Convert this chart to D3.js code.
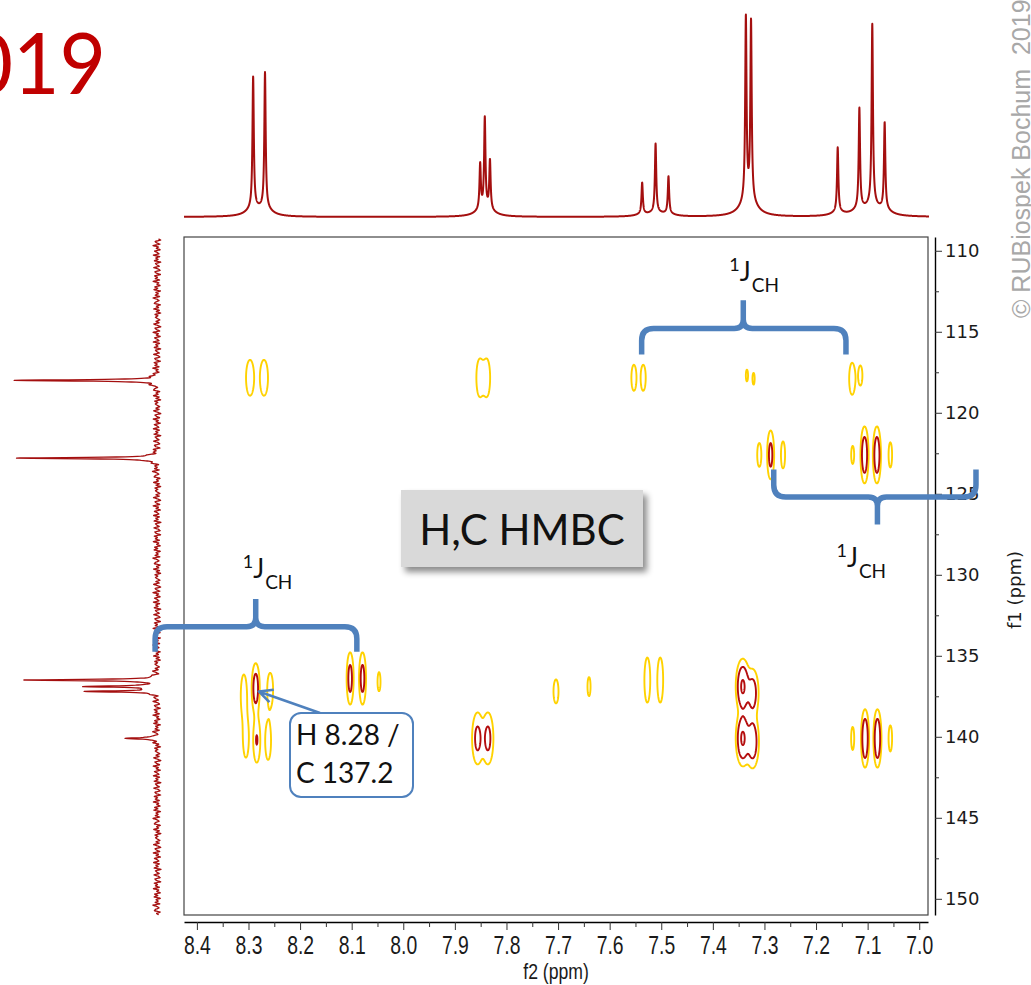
<!DOCTYPE html>
<html>
<head>
<meta charset="utf-8">
<script src="https://cdn.jsdelivr.net/npm/d3@7"></script>
<style>
  html, body { margin: 0; padding: 0; background: #fff; }
  svg { display: block; }
</style>
</head>
<body>
<svg id="chart" width="1031" height="985"></svg>
<script>
// 1H spectrum (top trace): shifts in ppm, heights in % of the tallest line
const hShift  = [8.291, 8.268, 7.851, 7.842, 7.832, 7.537, 7.511, 7.486, 7.336, 7.326, 7.158, 7.116, 7.091, 7.067];
const hHeight = [67, 69, 23, 46, 25, 16, 35, 19, 93, 91, 33, 51, 92, 44];

// 13C spectrum (left trace)
const cShift  = [118.0, 122.8, 136.5, 136.9, 137.2, 140.1];
const cHeight = [100, 99, 92, 50, 49, 24];
// baseline noise of the 13C trace (% units)
const cNoise = [0.8, -1.6, 2.4, -0.5, -2.7, 1.4, 0.3, -2.0, 2.8, -1.1, 0.6, -2.4, 1.8, -0.2, -1.4, 2.6,
                -1.9, 0.9, -0.8, 2.0, -2.8, 1.1, 0.1, -1.7, 2.3, -1.0, -2.2, 1.5, 0.5, -2.6, 1.9, -0.4,
                1.2, -1.8, 2.7, -1.3, 0.2, -2.3, 1.7, -0.6, 2.2, -2.5, 0.8, -0.9, 1.3, -2.0, 2.9, -0.1,
                -1.5, 1.0, 1.9, -2.4, 0.4, -1.2, 2.4, -1.8, 0.6, -2.7, 1.5, -0.7, 1.1, -0.3, -2.1];

// HMBC cross peaks: 1H shift, 13C shift, intensity, line widths (ppm)
const xpH   = [8.297, 8.270, 7.852, 7.838, 7.553, 7.535, 7.334, 7.321, 7.130, 7.114,
               7.310, 7.288, 7.264, 7.129, 7.106, 7.082, 7.056,
               8.309, 8.286, 8.258, 8.103, 8.079, 8.047, 7.704, 7.640, 7.527, 7.502, 7.342, 7.323,
               8.305, 8.284, 8.262, 7.856, 7.836, 7.342, 7.323, 7.129, 7.105, 7.081, 7.056];
const xpC   = [117.84, 117.84, 117.84, 117.84, 117.84, 117.84, 117.7, 117.9, 117.9, 117.7,
               122.6, 122.6, 122.6, 122.6, 122.6, 122.6, 122.6,
               137.45, 137.0, 137.1, 136.4, 136.4, 136.6, 137.2, 136.9, 136.5, 136.5, 136.9, 137.3,
               140.05, 140.2, 140.25, 140.1, 140.1, 140.1, 140.3, 140.1, 140.1, 140.1, 140.1];
const xpAmp = [2.0, 2.0, 1.8, 1.8, 1.8, 1.8, 1.15, 1.15, 2.0, 1.4,
               1.6, 4.2, 1.6, 1.35, 6.2, 6.2, 1.6,
               2.2, 5.2, 2.0, 4.5, 4.5, 1.4, 1.6, 1.3, 2.0, 2.0, 9.0, 5.0,
               2.0, 3.15, 2.0, 4.0, 4.0, 9.0, 6.0, 1.5, 7.4, 7.4, 1.6];
const xpWH  = [0.0066, 0.0066, 0.0058, 0.0058, 0.0045, 0.0045, 0.0039, 0.0039, 0.0049, 0.0047,
               0.0041, 0.0040, 0.0041, 0.0037, 0.0041, 0.0041, 0.0035,
               0.0047, 0.0043, 0.0048, 0.0039, 0.0039, 0.0035, 0.0050, 0.0041, 0.0048, 0.0048, 0.0065, 0.0065,
               0.0048, 0.0045, 0.0048, 0.0064, 0.0064, 0.0065, 0.0065, 0.0033, 0.0039, 0.0039, 0.0035];
const xpWC  = [0.94, 0.94, 1.05, 1.05, 0.74, 0.74, 0.68, 0.68, 0.84, 0.75,
               0.76, 0.89, 0.86, 0.72, 0.92, 0.92, 0.80,
               1.03, 0.85, 0.89, 0.93, 0.93, 0.72, 0.76, 0.81, 1.18, 1.18, 0.82, 0.82,
               1.05, 0.92, 1.00, 0.96, 0.96, 0.82, 0.87, 0.79, 0.90, 0.90, 0.83];
const contourLevels = [1, 3, 8];

// axis ticks
const xTicks = [8.4, 8.3, 8.2, 8.1, 8.0, 7.9, 7.8, 7.7, 7.6, 7.5, 7.4, 7.3, 7.2, 7.1, 7.0];
const xMinor = [8.35, 8.25, 8.15, 8.05, 7.95, 7.85, 7.75, 7.65, 7.55, 7.45, 7.35, 7.25, 7.15, 7.05];
const yTicks = [110, 115, 120, 125, 130, 135, 140, 145, 150];
const yMinor = [112.5, 117.5, 122.5, 127.5, 132.5, 137.5, 142.5, 147.5];

const specColor = "#a40f0f";
const blue = "#4f81bd";

const svg = d3.select("#chart");
const plot = {left: 184, right: 928, top: 237, bottom: 915};

const xH = d3.scaleLinear().domain([8.425, 6.983]).range([plot.left, plot.right]);
const yC = d3.scaleLinear().domain([109.15, 151.0]).range([plot.top, plot.bottom]);
const yTop = d3.scaleLinear().domain([0, 100]).range([217, 11]);
const xLeft = d3.scaleLinear().domain([0, 100]).range([157, 13]);

const defs = svg.append("defs");
defs.append("clipPath").attr("id", "plotClip")
  .append("rect")
  .attr("x", plot.left).attr("y", plot.top)
  .attr("width", plot.right - plot.left).attr("height", plot.bottom - plot.top);
const shadow = defs.append("filter").attr("id", "shadow")
  .attr("x", "-10%").attr("y", "-10%").attr("width", "130%").attr("height", "150%");
shadow.append("feDropShadow")
  .attr("dx", 4).attr("dy", 5).attr("stdDeviation", 3)
  .attr("flood-color", "#000").attr("flood-opacity", 0.45);

// red "2019" cut at the left edge
svg.append("text")
  .attr("x", -80).attr("y", 94)
  .attr("textLength", 186).attr("lengthAdjust", "spacingAndGlyphs")
  .style("font-family", "Lato, 'Open Sans', sans-serif")
  .style("font-size", "86px")
  .attr("fill", "#c00000")
  .text("2019");

// copyright, vertical
svg.append("text")
  .attr("transform", "translate(1030,318) rotate(-90)")
  .style("font-family", "'Liberation Sans', Arial, sans-serif")
  .style("font-size", "25px")
  .attr("fill", "#a8a8a8")
  .style("white-space", "pre")
  .text("\u00A9 RUBiospek Bochum\u00A0 2019");

// ---- top 1H trace
const gammaH = 0.00155, gammaFoot = 0.0155, footShare = 0.05;
const protonIntensity = ppm => {
  let s = 0;
  hShift.forEach((h, k) => {
    const d = ppm - h;
    s += hHeight[k] * ((1 - footShare) / (1 + (d / gammaH) ** 2) + footShare / (1 + (d / gammaFoot) ** 2));
  });
  return s;
};
const topPts = d3.range(plot.left, 929.01, 0.1).map(px => xH.invert(px));
svg.append("path")
  .datum(topPts)
  .attr("fill", "none")
  .attr("stroke", specColor)
  .attr("stroke-width", 2)
  .attr("stroke-linejoin", "round")
  .attr("d", d3.line().x(p => xH(p)).y(p => yTop(protonIntensity(p))));

// ---- left 13C trace
const gammaC = 0.045, noiseStep = 0.085;
const carbonIntensity = ppm => {
  let s = 0;
  cShift.forEach((c, k) => { s += cHeight[k] / (1 + ((ppm - c) / gammaC) ** 2); });
  const n = cNoise.length;
  const t = (ppm - 109) / noiseStep;
  const k0 = Math.floor(t), f = t - k0;
  const a = cNoise[((k0 % n) + n) % n], b = cNoise[(((k0 + 1) % n) + n) % n];
  return s + a + (b - a) * f;
};
const leftPts = d3.range(239, 915, 0.2).map(py => yC.invert(py));
svg.append("path")
  .datum(leftPts)
  .attr("fill", "none")
  .attr("stroke", specColor)
  .attr("stroke-width", 1.3)
  .attr("stroke-linejoin", "round")
  .attr("d", d3.line().x(p => xLeft(carbonIntensity(p))).y(p => yC(p)));

// ---- 2D contour map
const stepX = 0.5, stepY = 1;
const nx = Math.round((plot.right - plot.left) / stepX);
const ny = Math.round((plot.bottom - plot.top) / stepY);
const colPpm = d3.range(nx).map(i => xH.invert(plot.left + (i + 0.5) * stepX));
const rowPpm = d3.range(ny).map(j => yC.invert(plot.top + (j + 0.5) * stepY));
const field = new Array(nx * ny).fill(0);
xpH.forEach((h, k) => {
  const c = xpC[k], a = xpAmp[k], sh = xpWH[k], sc = xpWC[k];
  const i0 = Math.max(0, Math.floor((xH(h + 4.5 * sh) - plot.left) / stepX));
  const i1 = Math.min(nx - 1, Math.ceil((xH(h - 4.5 * sh) - plot.left) / stepX));
  const j0 = Math.max(0, Math.floor((yC(c - 4.5 * sc) - plot.top) / stepY));
  const j1 = Math.min(ny - 1, Math.ceil((yC(c + 4.5 * sc) - plot.top) / stepY));
  for (let j = j0; j <= j1; j++) {
    const dc = (rowPpm[j] - c) ** 2 / (2 * sc * sc);
    for (let i = i0; i <= i1; i++) {
      field[j * nx + i] += a * Math.exp(-((colPpm[i] - h) ** 2 / (2 * sh * sh) + dc));
    }
  }
});
const contours = d3.contours().size([nx, ny]).thresholds(contourLevels)(field);
const gridToPx = d3.geoTransform({
  point(x, y) { this.stream.point(plot.left + x * stepX, plot.top + y * stepY); }
});
const levelColor = ["#ffd200", "#b40d0d", "#b40d0d"];
svg.append("g")
  .attr("clip-path", "url(#plotClip)")
  .selectAll("path")
  .data(contours)
  .join("path")
  .attr("fill", "none")
  .attr("stroke", (d, i) => levelColor[i])
  .attr("stroke-width", 1.9)
  .attr("stroke-linejoin", "round")
  .attr("d", d3.geoPath(gridToPx));

// plot frame
svg.append("rect")
  .attr("x", plot.left).attr("y", plot.top)
  .attr("width", plot.right - plot.left).attr("height", plot.bottom - plot.top)
  .attr("fill", "none").attr("stroke", "#444").attr("stroke-width", 1.2);

// ---- axes
const xAxisY = 922;
const xAxisG = svg.append("g")
  .attr("transform", `translate(0,${xAxisY})`)
  .call(d3.axisBottom(xH).tickValues(xTicks).tickSize(8).tickSizeOuter(0).tickPadding(6).tickFormat(d3.format(".1f")));
svg.append("g")
  .attr("transform", `translate(0,${xAxisY})`)
  .call(d3.axisBottom(xH).tickValues(xMinor).tickSize(5).tickFormat(""))
  .call(g => g.select(".domain").remove());
xAxisG.select(".domain").attr("stroke-width", 1.6);
xAxisG.selectAll("text")
  .attr("transform", "scale(0.76,1)")
  .style("font-family", "'Liberation Sans', Arial, sans-serif")
  .style("font-size", "25.5px")
  .attr("fill", "#1a1a1a");

const yAxisX = 935;
const yAxisG = svg.append("g")
  .attr("transform", `translate(${yAxisX},0)`)
  .call(d3.axisRight(yC).tickValues(yTicks).tickSize(7).tickSizeOuter(0).tickPadding(3));
svg.append("g")
  .attr("transform", `translate(${yAxisX},0)`)
  .call(d3.axisRight(yC).tickValues(yMinor).tickSize(4).tickFormat(""))
  .call(g => g.select(".domain").remove());
yAxisG.select(".domain").attr("stroke-width", 1.4);
yAxisG.selectAll("text")
  .style("font-family", "'DejaVu Sans', Verdana, sans-serif")
  .style("font-size", "18px")
  .attr("fill", "#1a1a1a");
svg.selectAll(".tick line").attr("stroke", "#333");

svg.append("text")
  .attr("transform", `translate(${(plot.left + plot.right) / 2},979) scale(0.8,1)`)
  .attr("text-anchor", "middle")
  .style("font-family", "'Liberation Sans', Arial, sans-serif")
  .style("font-size", "22px")
  .attr("fill", "#1a1a1a")
  .text("f2 (ppm)");

svg.append("text")
  .attr("transform", "translate(1021,590) rotate(-90)")
  .attr("text-anchor", "middle")
  .style("font-family", "'DejaVu Sans', Verdana, sans-serif")
  .style("font-size", "18px")
  .attr("fill", "#1a1a1a")
  .text("f1 (ppm)");

// ---- "H,C HMBC" label box
svg.append("rect")
  .attr("x", 401).attr("y", 490).attr("width", 242).attr("height", 77)
  .attr("fill", "#d9d9d9")
  .attr("filter", "url(#shadow)");
svg.append("text")
  .attr("x", 522).attr("y", 545)
  .attr("text-anchor", "middle")
  .style("font-family", "Lato, 'Open Sans', sans-serif")
  .style("font-size", "42px")
  .attr("fill", "#111")
  .text("H,C HMBC");

// ---- curly brackets (ppm coordinates)
const brace = (x1, x2, xm, yLine, yLeg, yTip) => {
  const X1 = xH(x1), X2 = xH(x2), XM = xH(xm);
  const YL = yC(yLine), YG = yC(yLeg), YT = yC(yTip);
  const s = Math.sign(YG - YL), r = 12, r2 = 9;
  return `M${X1},${YG} L${X1},${YL + s * r} Q${X1},${YL} ${X1 + r},${YL} L${XM - r2},${YL} ` +
         `Q${XM},${YL} ${XM},${YL - s * r2} L${XM},${YT} M${XM},${YL - s * r2} ` +
         `Q${XM},${YL} ${XM + r2},${YL} L${X2 - r},${YL} Q${X2},${YL} ${X2},${YL + s * r} L${X2},${YG}`;
};
const braces = [
  {x1: 7.538, x2: 7.142, xm: 7.341, yLine: 114.8, yLeg: 116.4, yTip: 113.05, lx: -14, ly: -19},
  {x1: 7.282, x2: 6.890, xm: 7.081, yLine: 125.2, yLeg: 123.5, yTip: 126.9, lx: -41, ly: 42},
  {x1: 8.481, x2: 8.090, xm: 8.286, yLine: 133.2, yLeg: 134.75, yTip: 131.5, lx: -13, ly: -21}
];
braces.forEach(b => {
  svg.append("path")
    .attr("d", brace(b.x1, b.x2, b.xm, b.yLine, b.yLeg, b.yTip))
    .attr("fill", "none")
    .attr("stroke", blue)
    .attr("stroke-width", 5.5);
  const t = svg.append("text")
    .attr("x", xH(b.xm) + b.lx)
    .attr("y", yC(b.yTip) + b.ly - 10)
    .style("font-family", "Lato, 'Open Sans', sans-serif")
    .attr("fill", "#111");
  t.append("tspan").style("font-size", "18px").text("1");
  t.append("tspan").attr("dy", 10).style("font-size", "26px").text("J");
  t.append("tspan").attr("dy", 11).attr("dx", 1).style("font-size", "19px").text("CH");
});

// ---- callout with arrow to H 8.28 / C 137.2
const tipX = xH(8.28), tipY = yC(137.2);
const startX = 320, startY = 713;
const ang = Math.atan2(startY - tipY, startX - tipX);
const arm = 15, spread = 0.45;
svg.append("path")
  .attr("d", `M${startX},${startY} L${tipX},${tipY} ` +
             `M${tipX + arm * Math.cos(ang - spread)},${tipY + arm * Math.sin(ang - spread)} L${tipX},${tipY} ` +
             `L${tipX + arm * Math.cos(ang + spread)},${tipY + arm * Math.sin(ang + spread)}`)
  .attr("fill", "none")
  .attr("stroke", blue)
  .attr("stroke-width", 2.6)
  .attr("stroke-linejoin", "round");
svg.append("rect")
  .attr("x", 290).attr("y", 713).attr("width", 123).attr("height", 84).attr("rx", 11)
  .attr("fill", "#fff").attr("stroke", blue).attr("stroke-width", 2);
const callout = svg.append("text")
  .style("font-family", "Lato, 'Open Sans', sans-serif")
  .style("font-size", "28px")
  .attr("fill", "#111");
callout.append("tspan").attr("x", 296).attr("y", 745).text("H 8.28 /");
callout.append("tspan").attr("x", 296).attr("y", 783).text("C 137.2");
</script>
</body>
</html>
